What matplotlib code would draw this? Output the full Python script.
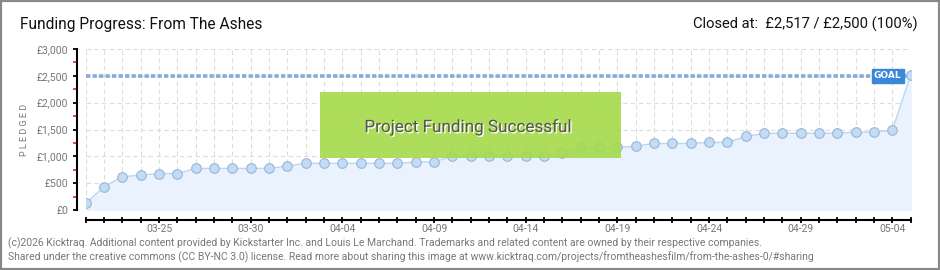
import matplotlib
matplotlib.use("Agg")
import matplotlib.pyplot as plt
from matplotlib.patches import Rectangle
from matplotlib.ticker import FuncFormatter, MultipleLocator
import matplotlib.patheffects as pe

# ---- dati (pledged giornaliero, GBP) ----
dates = ["03-21", "03-22", "03-23", "03-24", "03-25", "03-26", "03-27", "03-28",
         "03-29", "03-30", "03-31", "04-01", "04-02", "04-03", "04-04", "04-05",
         "04-06", "04-07", "04-08", "04-09", "04-10", "04-11", "04-12", "04-13",
         "04-14", "04-15", "04-16", "04-17", "04-18", "04-19", "04-20", "04-21",
         "04-22", "04-23", "04-24", "04-25", "04-26", "04-27", "04-28", "04-29",
         "04-30", "05-01", "05-02", "05-03", "05-04", "05-05"]
pledged = [125, 435, 620, 650, 680, 680, 775, 775, 775, 775, 775, 820, 870, 870,
           870, 870, 870, 870, 895, 895, 1005, 1005, 1015, 1015, 1015, 1015, 1055,
           1165, 1165, 1165, 1190, 1240, 1240, 1240, 1260, 1260, 1370, 1430, 1430,
           1430, 1430, 1430, 1450, 1450, 1490, 2517]
goal = 2500
title = "Funding Progress: From The Ashes"
status = "Closed at:  £2,517 / £2,500 (100%)"
footer = ["(c)2026 Kicktraq. Additional content provided by Kickstarter Inc. and Louis Le Marchand. "
          "Trademarks and related content are owned by their respective companies.",
          "Shared under the creative commons (CC BY-NC 3.0) license. Read more about sharing this image at "
          "www.kicktraq.com/projects/fromtheashesfilm/from-the-ashes-0/#sharing"]

FONT = ["Liberation Sans Narrow", "Roboto", "DejaVu Sans"]
plt.rcParams["font.family"] = FONT

W, H = 940, 270
PX = 72 / 100  # 1 pixel in punti
fig = plt.figure(figsize=(W / 100, H / 100), dpi=100)
fig.patch.set_facecolor("white")
ax = fig.add_axes([85.7 / W, (H - 210) / H, (910.7 - 85.7) / W, (210 - 49) / H])

xs = list(range(len(dates)))
ax.fill_between(xs, pledged, 0, color="#eaf3fd", zorder=1)
ax.plot(xs, pledged, color="#b9d6f3", lw=1.0, zorder=3)
ax.scatter(xs, pledged, s=48, c="#c3dbf5", edgecolors="#98b6d6", linewidths=0.8, zorder=4)
ax.axhline(goal, color="#86abd8", lw=2.6, ls=(0, (1.2, 0.6)), zorder=2)

ax.set_xlim(0, len(dates) - 1)
ax.set_ylim(0, 3000)

# griglia tratteggiata: verticale ogni giorno, orizzontale ogni 500
ax.set_xticks(xs)
ax.set_xticklabels([d if (i - 4) % 5 == 0 and i >= 4 else "" for i, d in enumerate(dates)])
ax.yaxis.set_major_locator(MultipleLocator(500))
ax.yaxis.set_minor_locator(MultipleLocator(250))
ax.yaxis.set_major_formatter(FuncFormatter(lambda v, p: f"£{int(v):,}"))
ax.grid(True, which="major", color="#dcdcdc", ls=(0, (4, 3)), lw=0.8, zorder=0)
ax.set_axisbelow(True)

for s in ("top", "right"):
    ax.spines[s].set_visible(False)
ax.spines["left"].set_position(("outward", 9 * PX))
ax.spines["bottom"].set_position(("outward", 10 * PX))
ax.spines["left"].set_linewidth(1.5)
ax.spines["bottom"].set_linewidth(1.5)
ax.tick_params(axis="x", direction="inout", length=6 * PX, width=1.3, color="black", labelsize=7.5,
               labelcolor="#777777", pad=1)
ax.tick_params(axis="y", which="major", length=3, width=1.3, color="black", labelsize=7.5,
               labelcolor="#777777", pad=3)
ax.tick_params(axis="y", which="minor", length=3, width=1.2, color="#ee2222")
ax.set_ylabel("P L E D G E D", fontsize=6.5, color="#777777", labelpad=6)

# etichetta GOAL
ax.text(43.75, goal, "GOAL", ha="center", va="center", fontsize=6.5, color="white", fontweight="bold",
        family=["DejaVu Sans"], zorder=6,
        bbox=dict(boxstyle="square,pad=0.25", fc="#3b87d8", ec="#3b87d8"))

# riquadro "Project Funding Successful"
ax.add_patch(Rectangle((320 / W, (H - 157.7) / H), (620.7 - 320) / W, (157.7 - 91.7) / H,
                       transform=fig.transFigure, fc="#a5da4a", ec="none", alpha=0.9, zorder=7))
fig.text(468 / W, (H - 127) / H, "Project Funding Successful", ha="center", va="center",
         fontsize=12.3, color="#555555", zorder=8,
         path_effects=[pe.withSimplePatchShadow(offset=(1, -1), shadow_rgbFace="white", alpha=1.0)])

fig.text(20 / W, (H - 24) / H, title, ha="left", va="center", fontsize=11.2, color="#111111")
fig.text(918 / W, (H - 24) / H, status, ha="right", va="center", fontsize=10.6, color="#111111")
fig.text(8 / W, (H - 243) / H, footer[0], ha="left", va="center", fontsize=7.5, color="#777777")
fig.text(8 / W, (H - 257) / H, footer[1], ha="left", va="center", fontsize=7.5, color="#777777")

# cornice grigia
fig.add_artist(Rectangle((0, 0), 1, 1, transform=fig.transFigure, fill=False, ec="#888888", lw=3))

fig.savefig("out.png", dpi=100)
